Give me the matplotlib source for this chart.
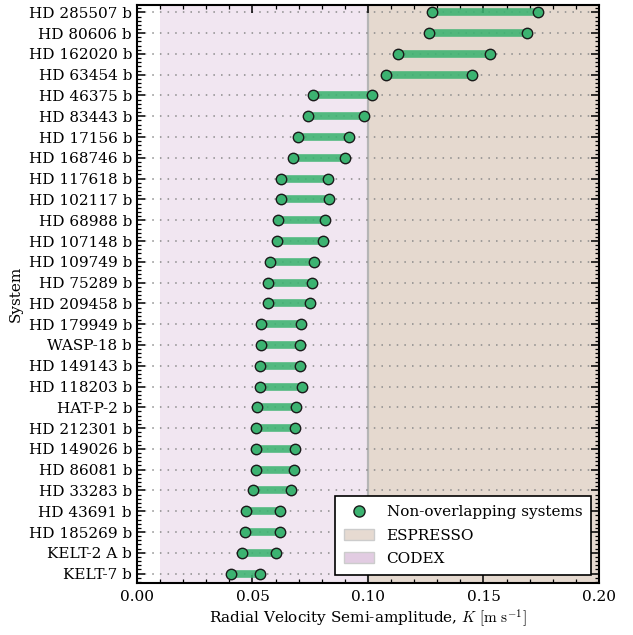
import numpy as np
import matplotlib
matplotlib.use('Agg')
import matplotlib.pyplot as plt
from matplotlib.patches import Patch
from matplotlib.lines import Line2D
from matplotlib.ticker import MultipleLocator, AutoMinorLocator, FormatStrFormatter

plt.rcParams['font.family'] = 'DejaVu Serif'
plt.rcParams['mathtext.fontset'] = 'cm'
plt.rcParams['font.size'] = 11

# Systems listed from bottom to top
systems = ['KELT-7 b', 'KELT-2 A b', 'HD 185269 b', 'HD 43691 b', 'HD 33283 b',
           'HD 86081 b', 'HD 149026 b', 'HD 212301 b', 'HAT-P-2 b', 'HD 118203 b',
           'HD 149143 b', 'WASP-18 b', 'HD 179949 b', 'HD 209458 b', 'HD 75289 b',
           'HD 109749 b', 'HD 107148 b', 'HD 68988 b', 'HD 102117 b', 'HD 117618 b',
           'HD 168746 b', 'HD 17156 b', 'HD 83443 b', 'HD 46375 b', 'HD 63454 b',
           'HD 162020 b', 'HD 80606 b', 'HD 285507 b']

k_low = [0.0405, 0.0454, 0.0469, 0.0472, 0.0503,
         0.0514, 0.0514, 0.0517, 0.0520, 0.0534,
         0.0534, 0.0537, 0.0538, 0.0566, 0.0566,
         0.0577, 0.0608, 0.0612, 0.0625, 0.0625,
         0.0675, 0.0695, 0.0740, 0.0760, 0.1076,
         0.1131, 0.1264, 0.1277]

k_high = [0.0534, 0.0601, 0.0621, 0.0621, 0.0667,
          0.0680, 0.0682, 0.0683, 0.0688, 0.0714,
          0.0707, 0.0707, 0.0712, 0.0749, 0.0756,
          0.0766, 0.0807, 0.0812, 0.0831, 0.0827,
          0.0899, 0.0917, 0.0985, 0.1017, 0.1451,
          0.1527, 0.1690, 0.1738]

codex_range = (0.01, 0.1)
espresso_range = (0.1, 0.2)

y = np.arange(len(systems))
green = '#3cb371'

fig = plt.figure(figsize=(6.33, 6.35), dpi=100)
ax = fig.add_axes([0.2164, 0.082, 0.7298, 0.910])

ax.axvspan(*codex_range, color='#f1e6f1', lw=0, zorder=0)
ax.axvspan(*espresso_range, color='#e5d9cf', lw=0, zorder=0)
ax.axvline(0.1, color='#b5b5b5', lw=1.6, zorder=1)

for yi in y:
    ax.axhline(yi, color='#8a8a8a', ls=(0, (1, 4)), lw=1.1, zorder=1)

ax.hlines(y, k_low, k_high, color=green, lw=5.5, alpha=0.88, zorder=2)
ax.plot(k_low, y, 'o', color=green, mec='#1a1a1a', mew=1.0, ms=7.5, zorder=3)
ax.plot(k_high, y, 'o', color=green, mec='#1a1a1a', mew=1.0, ms=7.5, zorder=3)

ax.set_xlim(0, 0.2)
ax.set_ylim(-0.45, 27.35)
ax.set_yticks(y)
ax.set_yticklabels(systems)
ax.xaxis.set_major_locator(MultipleLocator(0.05))
ax.xaxis.set_minor_locator(MultipleLocator(0.01))
ax.xaxis.set_major_formatter(FormatStrFormatter('%.2f'))
ax.yaxis.set_minor_locator(AutoMinorLocator(5))
ax.tick_params(which='both', direction='in', top=True, right=True)
ax.tick_params(which='major', length=6, width=1.1)
ax.tick_params(which='minor', length=3, width=0.9)
ax.tick_params(axis='x', pad=5)
for s in ax.spines.values():
    s.set_linewidth(1.5)

ax.set_xlabel(r'Radial Velocity Semi-amplitude, $K$ $[\mathrm{m\ s^{-1}}]$', labelpad=2)
ax.set_ylabel('System')

handles = [
    Line2D([], [], marker='o', ls='none', color=green, mec='#1a1a1a', mew=1.0, ms=8),
    Patch(facecolor='#e6dad1', edgecolor='#cccccc'),
    Patch(facecolor='#e2cce2', edgecolor='#cccccc'),
]
leg = ax.legend(handles, ['Non-overlapping systems', 'ESPRESSO', 'CODEX'],
                loc='lower right', fancybox=False, framealpha=1,
                edgecolor='black', borderaxespad=0.5, borderpad=0.6,
                labelspacing=0.62, fontsize=11)
leg.get_frame().set_linewidth(1.2)
leg.set_zorder(5)

fig.savefig('out.png', dpi=100)
